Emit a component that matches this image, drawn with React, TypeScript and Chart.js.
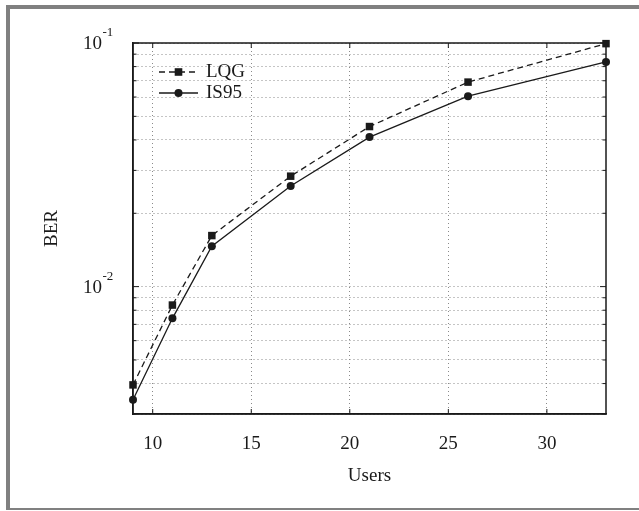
import { useEffect, useRef } from 'react';
import { Chart, ChartConfiguration, Plugin, registerables } from 'chart.js';

Chart.register(...registerables);

const users = [9, 11, 13, 17, 21, 26, 33];
const berLqg = [0.00395, 0.0084, 0.0162, 0.0284, 0.0454, 0.0691, 0.0994];
const berIs95 = [0.00343, 0.00741, 0.01466, 0.0259, 0.0411, 0.0605, 0.0836];
const seriesNames = ['LQG', 'IS95'];
const xTickValues = [10, 15, 20, 25, 30];
const yGridValues = [
  0.003, 0.004, 0.005, 0.006, 0.007, 0.008, 0.009,
  0.01, 0.02, 0.03, 0.04, 0.05, 0.06, 0.07, 0.08, 0.09, 0.1
];
const yLabelValues = [0.01, 0.1];

const FONT = "'Liberation Serif', 'Times New Roman', serif";
const INK = '#1a1a1a';

// box round the plot, inward ticks, 10^n labels and the in-plot legend
const paperPlugin: Plugin<'line'> = {
  id: 'paper',
  beforeDatasetsDraw(chart) {
    const { ctx, chartArea: a } = chart;
    const xs = chart.scales.x;
    const ys = chart.scales.y;
    ctx.save();
    ctx.strokeStyle = INK;
    ctx.lineWidth = 1.5;
    ctx.strokeRect(a.left, a.top, a.right - a.left, a.bottom - a.top);
    ctx.lineWidth = 1;
    ctx.beginPath();
    xTickValues.forEach((v) => {
      const px = xs.getPixelForValue(v);
      ctx.moveTo(px, a.bottom);
      ctx.lineTo(px, a.bottom - 5);
      ctx.moveTo(px, a.top);
      ctx.lineTo(px, a.top + 5);
    });
    yGridValues.forEach((v) => {
      const py = ys.getPixelForValue(v);
      const len = yLabelValues.includes(v) ? 6 : 3.5;
      ctx.moveTo(a.left, py);
      ctx.lineTo(a.left + len, py);
      ctx.moveTo(a.right, py);
      ctx.lineTo(a.right - len, py);
    });
    ctx.stroke();
    ctx.restore();
  },
  afterDraw(chart) {
    const { ctx, chartArea: a } = chart;
    const ys = chart.scales.y;
    ctx.save();
    ctx.fillStyle = INK;
    ctx.textBaseline = 'middle';
    yLabelValues.forEach((v) => {
      const py = ys.getPixelForValue(v);
      const exp = Math.round(Math.log10(v));
      ctx.font = `19px ${FONT}`;
      ctx.textAlign = 'right';
      ctx.fillText('10', a.left - 31, py + 1.5);
      ctx.font = `13px ${FONT}`;
      ctx.textAlign = 'left';
      ctx.fillText(String(exp), a.left - 30.5, py - 10);
    });

    // legend
    chart.data.datasets.forEach((ds: any, i) => {
      const y = a.top + 29 + i * 21;
      const x0 = a.left + 26;
      const x1 = a.left + 65;
      const xm = (x0 + x1) / 2;
      ctx.strokeStyle = INK;
      ctx.lineWidth = 1.3;
      ctx.setLineDash(ds.borderDash || []);
      ctx.beginPath();
      ctx.moveTo(x0, y);
      ctx.lineTo(x1, y);
      ctx.stroke();
      ctx.setLineDash([]);
      ctx.fillStyle = INK;
      ctx.beginPath();
      if (ds.pointStyle === 'rect') {
        ctx.rect(xm - 3.8, y - 3.8, 7.6, 7.6);
      } else {
        ctx.arc(xm, y, 4, 0, Math.PI * 2);
      }
      ctx.fill();
      ctx.font = `19px ${FONT}`;
      ctx.textAlign = 'left';
      ctx.fillText(ds.label, a.left + 73, y);
    });
    ctx.restore();
  }
};

export default function App() {
  const canvasRef = useRef<HTMLCanvasElement | null>(null);
  const chartRef = useRef<Chart | null>(null);

  useEffect(() => {
    if (!canvasRef.current) {
      return;
    }
    const ctx = canvasRef.current.getContext('2d');
    if (!ctx) {
      return;
    }
    const config: ChartConfiguration<'line'> = {
      type: 'line',
      data: {
        datasets: [
          {
            label: seriesNames[0],
            data: users.map((u, i) => ({ x: u, y: berLqg[i] })),
            borderColor: INK,
            backgroundColor: INK,
            borderWidth: 1.3,
            borderDash: [6, 4],
            pointStyle: 'rect',
            pointRadius: 5.3,
            pointBorderWidth: 0,
            tension: 0,
            clip: false
          },
          {
            label: seriesNames[1],
            data: users.map((u, i) => ({ x: u, y: berIs95[i] })),
            borderColor: INK,
            backgroundColor: INK,
            borderWidth: 1.3,
            pointStyle: 'circle',
            pointRadius: 4,
            pointBorderWidth: 0,
            tension: 0,
            clip: false
          }
        ]
      },
      options: {
        animation: false,
        responsive: true,
        maintainAspectRatio: false,
        layout: { padding: { top: 43, right: 33, left: 0, bottom: 0 } },
        plugins: {
          legend: { display: false },
          tooltip: { enabled: false }
        },
        scales: {
          x: {
            type: 'linear',
            min: 9,
            max: 33,
            afterBuildTicks: (scale) => {
              scale.ticks = xTickValues.map((v) => ({ value: v }));
            },
            afterFit: (scale) => {
              scale.height = 97;
            },
            grid: { color: '#8a8a8a', lineWidth: 1, drawTicks: false },
            border: { display: true, color: INK, width: 1.5, dash: [1, 3] },
            ticks: {
              color: INK,
              font: { family: FONT, size: 19 },
              padding: 18.6,
              maxRotation: 0
            },
            title: {
              display: true,
              text: 'Users',
              color: INK,
              font: { family: FONT, size: 19 },
              padding: { top: 0, bottom: 23.6 }
            }
          },
          y: {
            type: 'logarithmic',
            min: 0.003,
            max: 0.1,
            afterBuildTicks: (scale) => {
              scale.ticks = yGridValues.map((v) => ({ value: v }));
            },
            afterFit: (scale) => {
              scale.width = 133;
            },
            grid: { color: '#8a8a8a', lineWidth: 1, drawTicks: false },
            border: { display: true, color: INK, width: 1.5, dash: [1, 3] },
            ticks: { display: false },
            title: {
              display: true,
              text: 'BER',
              color: INK,
              font: { family: FONT, size: 19 },
              padding: { top: 40.6, bottom: 0 }
            }
          }
        }
      },
      plugins: [paperPlugin]
    };

    if (chartRef.current) {
      chartRef.current.destroy();
    }
    chartRef.current = new Chart(ctx, config);

    return () => {
      chartRef.current?.destroy();
      chartRef.current = null;
    };
  }, []);

  const gray = '#808080';
  return (
    <div style={{ position: 'absolute', left: 0, top: 0, width: 639, height: 511, background: '#fff' }}>
      <div style={{ position: 'absolute', left: 0, top: 0, width: 639, height: 511 }}>
        <canvas ref={canvasRef} aria-label="BER versus Users" role="img" />
      </div>
      <div style={{ position: 'absolute', left: 6, top: 5, width: 633, height: 4, background: gray }} />
      <div style={{ position: 'absolute', left: 6, top: 5, width: 4, height: 505, background: gray }} />
      <div style={{ position: 'absolute', left: 6, top: 508, width: 633, height: 2, background: gray }} />
    </div>
  );
}
